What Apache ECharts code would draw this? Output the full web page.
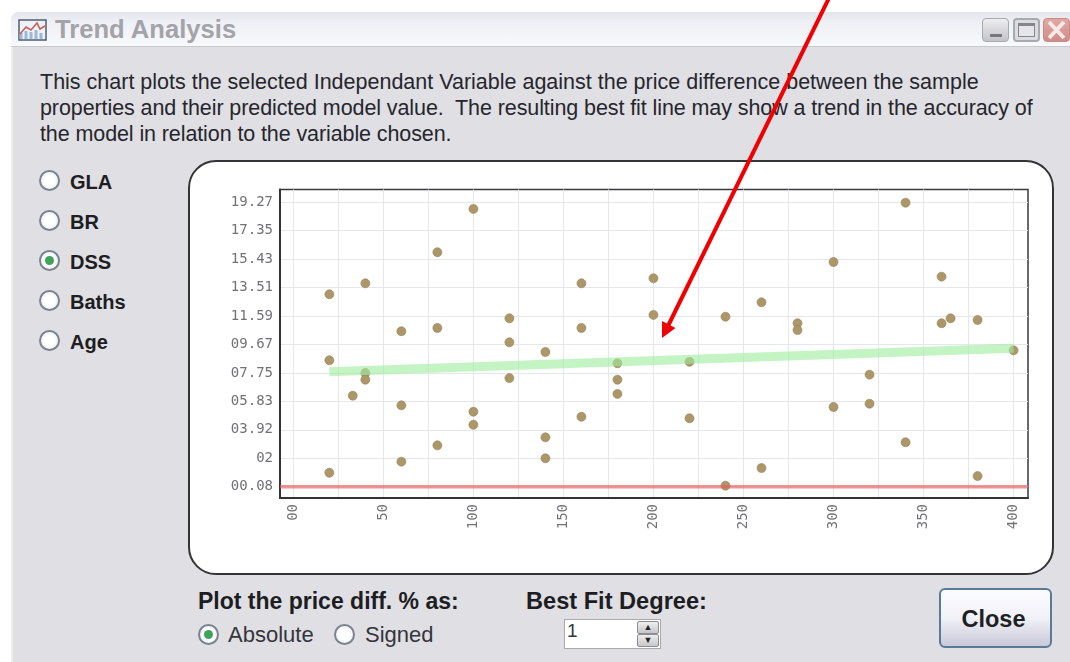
<!DOCTYPE html>
<html>
<head>
<meta charset="utf-8">
<title>Trend Analysis</title>
<script src="https://cdn.jsdelivr.net/npm/echarts@6/dist/echarts.min.js"></script>
<style>
  html, body { margin: 0; padding: 0; background: #fff; }
  #page { position: relative; width: 1070px; height: 662px; overflow: hidden; font-family: "Liberation Sans", Arial, sans-serif; color: #26262c; }
  #page div, #page span { position: absolute; white-space: nowrap; }
  #win { left: 11px; top: 12px; width: 1059px; height: 650px; background: #dfdfe4; border-left: 2px solid #eeeef1; border-top-left-radius: 8px; }
  #titlebar { left: 11px; top: 12px; width: 1059px; height: 34px; border-top-left-radius: 8px; background: linear-gradient(#e3e5ec 0, #eef0f5 30%, #f8f9fb 100%); border-bottom: 1px solid #c8c8ce; }
  #wintitle { left: 55px; top: 15px; font-size: 25.6px; font-weight: bold; color: #a3a3a8; }
  #panel { left: 188px; top: 160px; width: 862px; height: 411px; background: #fff; border: 2px solid #333338; border-radius: 28px; }
  #chart { left: 0; top: 0; width: 1070px; height: 662px; }
  .txt { font-size: 21.5px; left: 40px; }
  .opt { font-size: 20px; font-weight: bold; left: 70px; color: #1d1d22; }
  .radio { width: 17px; height: 17px; border: 2px solid #7b838e; border-radius: 50%; background: radial-gradient(#fff 40%, #e4e6ea 100%); }
  .radio.on::after { content: ""; position: absolute; left: 4px; top: 4px; width: 9px; height: 9px; border-radius: 50%; background: #3fa45b; }
  .lbl { font-size: 23px; font-weight: bold; color: #1d1d22; }
  .sub { font-size: 22px; color: #35353b; }
  .wbtn { top: 18px; height: 24px; border-radius: 4px; border: 1px solid #a9a9b0; background: linear-gradient(#eeeef0, #c3c3c9); box-sizing: border-box; }
  #spin { left: 564px; top: 619px; width: 97px; height: 30px; background: #fff; border: 1px solid #a9a9af; box-sizing: border-box; }
  #close { left: 939px; top: 588px; width: 113px; height: 60px; box-sizing: border-box; border: 2px solid #5a7a96; border-radius: 6px; background: linear-gradient(#fbfcff 0, #f1f1f8 50%, #c9c9da 100%); font-size: 23.5px; font-weight: bold; color: #1f1f26; text-align: center; line-height: 58px; padding-right: 4px; }
  .sbtn { left: 637px; width: 22px; height: 13px; background: linear-gradient(#eee, #c7c7cb); border: 1px solid #8d8d92; box-sizing: border-box; border-radius: 2px; font-size: 9px; line-height: 11px; text-align: center; color: #222; }
</style>
</head>
<body>
<div id="page">
  <div id="win"></div>
  <div id="titlebar"></div>
  <svg style="position:absolute;left:18px;top:17px" width="29" height="25">
    <rect x="1" y="3" width="27" height="20" fill="#eef2f7" stroke="#4f5f75" stroke-width="1.5"/>
    <path d="M3 22V16M8 22V14M13 22V15M18 22V13M23 22V16" stroke="#9db7dc" stroke-width="3"/>
    <path d="M2 17L8 10L13 13L19 6L22 12L27 9" fill="none" stroke="#c9605a" stroke-width="1.6"/>
  </svg>
  <div id="wintitle">Trend Analysis</div>
  <div class="wbtn" style="left:982px;width:27px"><span style="left:7px;top:15px;width:12px;height:3px;background:#77777d"></span></div>
  <div class="wbtn" style="left:1013px;width:27px;border:2px solid #a9a9b0;background:#dcdce0"><span style="left:3px;top:3px;width:17px;height:14px;border:1px solid #85858c;border-top:3px solid #85858c;box-sizing:border-box;background:#e6e6ea"></span></div>
  <div class="wbtn" style="left:1043px;width:27px;background:linear-gradient(#e3a9a5,#cf8b86);border-color:#c58d8a"></div>
  <svg style="position:absolute;left:1043px;top:18px" width="27" height="24"><path d="M6 4L21 20M21 4L6 20" stroke="#f6e9e8" stroke-width="4"/></svg>

  <div class="txt" id="t1" style="top:70px">This chart plots the selected Independant Variable against the price difference between the sample</div>
  <div class="txt" id="t2" style="top:96px;letter-spacing:-0.09px">properties and their predicted model value.&nbsp; The resulting best fit line may show a trend in the accuracy of</div>
  <div class="txt" id="t3" style="top:122px;letter-spacing:-0.1px">the model in relation to the variable chosen.</div>

  <div class="radio" style="left:39px;top:170px"></div><div class="opt" style="top:171px">GLA</div>
  <div class="radio" style="left:39px;top:210px"></div><div class="opt" style="top:211px">BR</div>
  <div class="radio on" style="left:39px;top:250px"></div><div class="opt" style="top:251px">DSS</div>
  <div class="radio" style="left:39px;top:290px"></div><div class="opt" style="top:291px">Baths</div>
  <div class="radio" style="left:39px;top:330px"></div><div class="opt" style="top:331px">Age</div>

  <div id="panel"></div>

  <div class="lbl" style="left:198px;top:588px">Plot the price diff. % as:</div>
  <div class="radio on" style="left:198px;top:624px"></div><div class="sub" style="left:228px;top:622px">Absolute</div>
  <div class="radio" style="left:334px;top:624px"></div><div class="sub" style="left:365px;top:622px">Signed</div>
  <div class="lbl" style="left:526px;top:588px;font-size:23.6px">Best Fit Degree:</div>
  <div id="spin"></div>
  <div class="sub" style="left:567px;top:620px;font-size:19px">1</div>
  <div class="sbtn" style="top:621px">&#9650;</div>
  <div class="sbtn" style="top:634px">&#9660;</div>
  <div id="close">Close</div>

  <div id="chart"></div>
</div>
<script>
// tick values and the labels the app prints for them
var xGridValues = [0, 25, 50, 75, 100, 125, 150, 175, 200, 225, 250, 275, 300, 325, 350, 375, 400];
var xLabelValues = [0, 50, 100, 150, 200, 250, 300, 350, 400];
var xLabels = ['00', '50', '100', '150', '200', '250', '300', '350', '400'];
var yValues = [0.08, 2, 3.92, 5.83, 7.75, 9.67, 11.59, 13.51, 15.43, 17.35, 19.27];
var yLabels = ['00.08', '02', '03.92', '05.83', '07.75', '09.67', '11.59', '13.51', '15.43', '17.35', '19.27'];

// sample points
var dotX = [20, 20, 20, 40, 40, 40, 33, 60, 60, 60, 80, 80, 80, 100, 100, 100, 120, 120, 120, 140, 140, 140, 160, 160, 160, 180, 180, 180,
  200, 200, 220, 220, 240, 240, 260, 260, 280, 280, 300, 300, 320, 320, 340, 340, 360, 360, 365, 380, 380, 400];
var dotY = [13.06, 8.61, 1.02, 13.8, 7.75, 7.3, 6.22, 10.57, 5.57, 1.77, 15.9, 10.79, 2.87, 18.82, 5.14, 4.26, 11.44, 9.82, 7.41, 9.17, 3.41, 2.0, 13.8, 10.79, 4.8, 8.41, 7.3, 6.34,
  14.14, 11.67, 8.51, 4.7, 11.55, 0.15, 12.52, 1.34, 11.11, 10.65, 15.24, 5.46, 7.64, 5.68, 19.24, 3.08, 14.25, 11.11, 11.44, 11.33, 0.8, 9.28];

// best fit line and the zero difference line
var fitX = [20, 400];
var fitY = [7.84, 9.42];
var baseX = [-7.4, 408];
var baseY = [0.08, 0.08];

function zip(a, b) {
  return a.map(function (v, i) { return [v, b[i]]; });
}

var myChart = echarts.init(document.getElementById('chart'), null, { renderer: 'canvas' });

var gridLine = { show: true, lineStyle: { color: '#e6e6ed', width: 1 } };
var tickFont = { color: '#717177', fontFamily: 'DejaVu Sans Mono', fontSize: 14 };

myChart.setOption({
  animation: false,
  backgroundColor: 'transparent',
  grid: { left: 280, top: 189.5, width: 748, height: 308.5, show: true, borderColor: '#3a3a3e', borderWidth: 1.5, backgroundColor: 'transparent' },
  xAxis: {
    type: 'value', min: -7.4, max: 408,
    axisLine: { onZero: false, lineStyle: { color: '#333', width: 2 } },
    axisTick: { show: false, customValues: xGridValues },
    splitLine: gridLine,
    axisLabel: Object.assign({}, tickFont, {
      rotate: 90, margin: 6, customValues: xLabelValues,
      formatter: function (v) { return xLabels[xLabelValues.indexOf(v)]; }
    })
  },
  yAxis: {
    type: 'value', min: -0.68, max: 20.13,
    axisLine: { show: true, onZero: false, lineStyle: { color: '#333', width: 2 } },
    axisTick: { show: false, customValues: yValues },
    splitLine: gridLine,
    axisLabel: Object.assign({}, tickFont, {
      margin: 7, customValues: yValues,
      formatter: function (v) { return yLabels[yValues.indexOf(v)]; }
    })
  },
  series: [
    {
      type: 'scatter', silent: true, symbolSize: 9, z: 2,
      itemStyle: { color: '#ad9769', borderColor: '#94815a', borderWidth: 0.6, opacity: 1 },
      data: zip(dotX, dotY)
    },
    {
      type: 'line', silent: true, showSymbol: false, z: 3,
      lineStyle: { color: 'rgba(160,235,160,0.62)', width: 9, cap: 'butt' },
      data: zip(fitX, fitY)
    },
    {
      type: 'line', silent: true, showSymbol: false, z: 3,
      lineStyle: { color: 'rgba(232,90,90,0.65)', width: 3.5, cap: 'butt' },
      data: zip(baseX, baseY)
    }
  ],
  // red callout arrow pasted over the screenshot
  graphic: [
    { type: 'line', z: 20, shape: { x1: 829, y1: -2, x2: 667, y2: 328 }, style: { stroke: '#f00000', lineWidth: 4 } },
    { type: 'polygon', z: 20, shape: { points: [[662, 338], [662, 321], [675.5, 328]] }, style: { fill: '#f00000' } }
  ]
});
</script>
</body>
</html>
